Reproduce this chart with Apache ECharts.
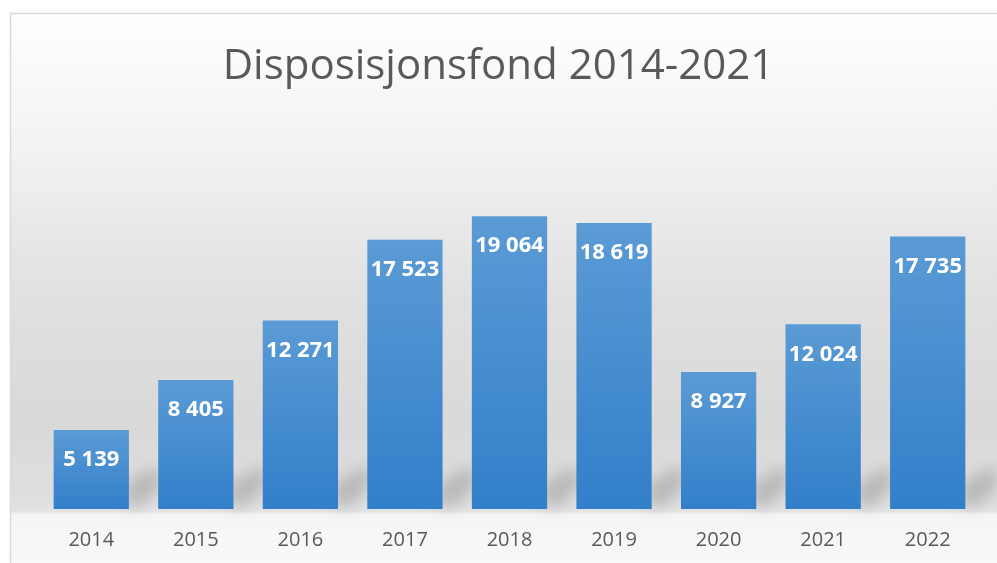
<!DOCTYPE html>
<html lang="no">
<head>
<meta charset="UTF-8">
<title>Disposisjonsfond</title>
<script src="https://cdn.jsdelivr.net/npm/echarts@6/dist/echarts.min.js"></script>
<style>
html,body{margin:0;padding:0;width:100%;height:100%;background:#fff;}
#chart{width:997px;height:563px;}
</style>
</head>
<body>
<div id="chart"></div>
<script>
var years = ['2014', '2015', '2016', '2017', '2018', '2019', '2020', '2021', '2022'];
var values = [5139, 8405, 12271, 17523, 19064, 18619, 8927, 12024, 17735];
var titleText = 'Disposisjonsfond 2014-2021';

function fmt(v) {
	return String(v).replace(/\B(?=(\d{3})+(?!\d))/g, ' ');
}

var myChart = echarts.init(document.getElementById('chart'));

// soft floor shadow to the right of each bar base
function renderShadow(params, api) {
	var base = api.coord([api.value(0), 0]);
	var size = api.size([1, 0]);
	var half = size[0] * 0.72 / 2;
	var xr = base[0] + half;
	var yb = base[1];
	var far = 3000;
	return {
		type: 'polygon',
		shape: {
			points: [
				[xr - 4, yb - 2 - far],
				[xr - 4, yb - 24 - far],
				[xr + 26, yb - 42 - far],
				[xr + 36, yb - 30 - far],
				[xr + 14, yb - 4 - far]
			]
		},
		style: {
			fill: '#000',
			shadowColor: 'rgba(0,0,0,0.18)',
			shadowBlur: 16,
			shadowOffsetX: 0,
			shadowOffsetY: far
		},
		silent: true
	};
}

var options = {
	backgroundColor: '#fff',
	animation: false,
	graphic: [{
		type: 'rect',
		z: -10,
		silent: true,
		shape: { x: 10.5, y: 13.5, width: 1000, height: 560 },
		style: {
			stroke: '#d9d9d9',
			lineWidth: 1.5,
			fill: new echarts.graphic.LinearGradient(0, 0, 0, 1, [
				{ offset: 0, color: '#ffffff' },
				{ offset: 0.245, color: '#f2f2f2' },
				{ offset: 0.51, color: '#e0e0e0' },
				{ offset: 0.73, color: '#d9d9d9' },
				{ offset: 0.87, color: '#dfdfdf' },
				{ offset: 0.888, color: '#e4e4e4' },
				{ offset: 0.893, color: '#f5f5f5' },
				{ offset: 1, color: '#f9f9f9' }
			])
		}
	}],
	title: {
		text: titleText,
		left: 'center',
		top: 41,
		textStyle: {
			fontFamily: 'Open Sans',
			fontSize: 42,
			fontWeight: 'normal',
			color: '#595959'
		}
	},
	grid: { left: 39, right: 17, top: 125, bottom: 54 },
	xAxis: {
		type: 'category',
		data: years,
		axisLine: { show: false },
		axisTick: { show: false },
		axisLabel: {
			margin: 21,
			fontFamily: 'Open Sans',
			fontSize: 20,
			color: '#595959'
		}
	},
	yAxis: {
		type: 'value',
		min: 0,
		max: 25000,
		show: false,
		splitLine: { show: false }
	},
	series: [{
		type: 'custom',
		renderItem: renderShadow,
		data: years.map(function(y, i) { return [i]; }),
		clip: false,
		z: 1
	}, {
		type: 'bar',
		data: values,
		barCategoryGap: '28%',
		z: 2,
		itemStyle: {
			color: new echarts.graphic.LinearGradient(0, 0, 0, 1, [
				{ offset: 0, color: '#5b9bd5' },
				{ offset: 1, color: '#327fca' }
			])
		},
		label: {
			show: true,
			position: 'insideTop',
			distance: 19,
			formatter: function(p) { return fmt(p.value); },
			fontFamily: 'Open Sans',
			fontWeight: 'bold',
			fontSize: 22,
			color: '#ffffff'
		}
	}]
};
myChart.setOption(options);
</script>
</body>
</html>
